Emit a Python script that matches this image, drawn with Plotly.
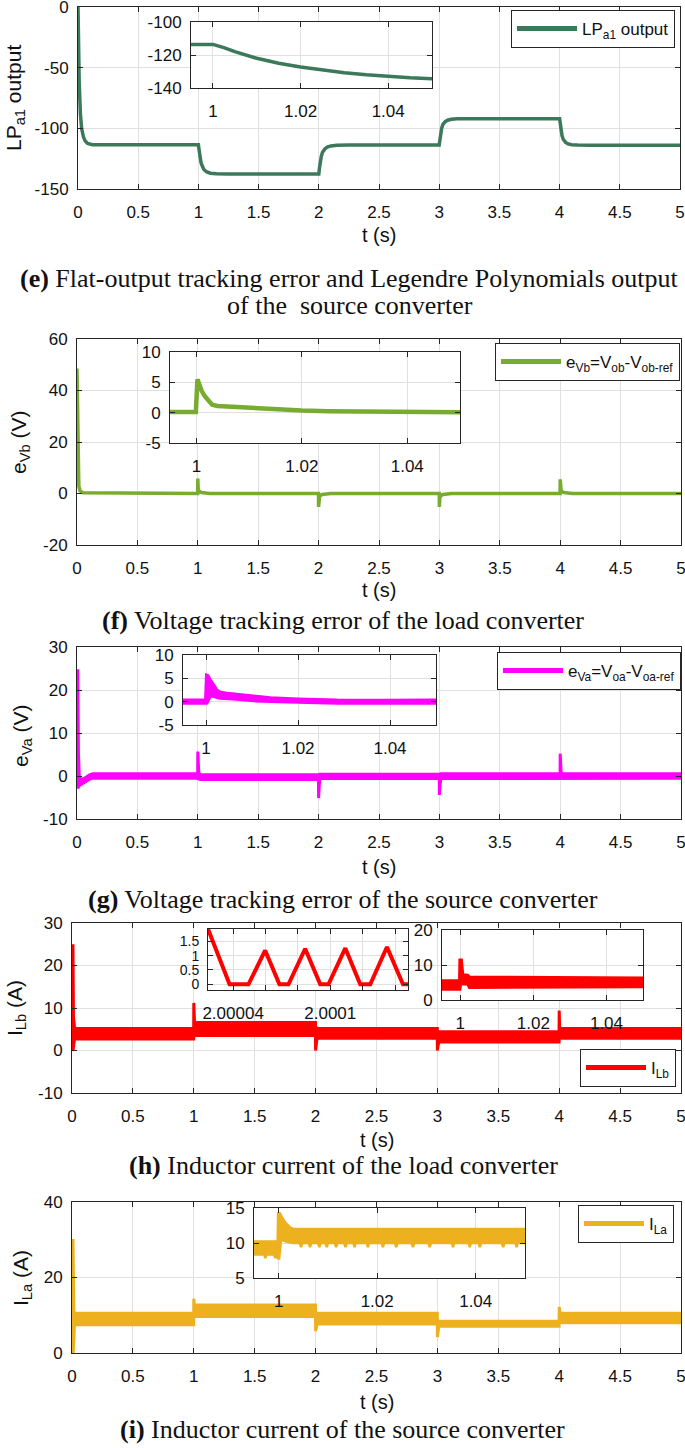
import plotly.graph_objects as go

W, H = 685, 1448

# ---------------- values ----------------
# (e) Legendre polynomials output LP_a1
t_lp = [0, 0.005, 0.01, 0.02, 0.03, 0.045, 0.06, 0.08, 0.12, 0.2, 0.995, 1.0,
        1.0025, 1.005, 1.01, 1.015, 1.02, 1.025, 1.03, 1.035, 1.04, 1.045, 1.05,
        1.07, 1.1, 1.15, 1.25, 2.0, 2.005, 2.01, 2.02, 2.03, 2.05, 2.07, 2.1, 2.15,
        2.25, 3.0, 3.005, 3.01, 3.02, 3.03, 3.05, 3.07, 3.1, 3.15, 3.25, 4.0, 4.005,
        4.01, 4.02, 4.03, 4.05, 4.07, 4.1, 4.15, 4.25, 5.0]
lp = [0, -38, -62, -88, -100, -107, -110.5, -112.5, -113.5, -113.6, -113.6, -113.6,
      -115.5, -118, -122, -125, -127.3, -129.3, -130.8, -132, -133, -133.8, -134.4,
      -136, -137, -137.5, -137.6, -137.6, -133, -129, -123.5, -120, -117, -115.5,
      -114.5, -114, -113.8, -113.8, -109, -105, -100, -97, -94.5, -93.3, -92.6,
      -92.2, -92, -92, -96.5, -100.5, -106, -109, -111.6, -112.8, -113.5, -113.8,
      -114, -114]

# (f) load converter voltage error e_Vb
t_evb = [0, 0.003, 0.006, 0.01, 0.015, 0.025, 0.05, 0.999, 1.0, 1.003, 1.008, 1.03,
         1.1, 1.999, 2.0, 2.003, 2.008, 2.03, 2.1, 2.999, 3.0, 3.003, 3.008, 3.03,
         3.1, 3.999, 4.0, 4.003, 4.008, 4.03, 4.1, 5.0]
evb = [48.5, 40, 20, 8, 3, 1, 0.3, 0, 5.8, 2, 1, 0.4, 0, 0, -5.2, -2, -1, -0.4, 0,
       0, -5.2, -2, -1, -0.4, 0, 0, 5.5, 2, 1, 0.4, 0, 0]
t_evb_zoom = [0.995, 0.9999, 1.0002, 1.0006, 1.001, 1.0016, 1.0024, 1.003, 1.004,
              1.006, 1.009, 1.012, 1.016, 1.02, 1.025, 1.03, 1.035, 1.04, 1.045, 1.05]
evb_zoom = [0.1, 0.1, 5.5, 4.5, 3.6, 2.7, 1.9, 1.3, 1.1, 1.0, 0.85, 0.7, 0.5, 0.35,
            0.25, 0.18, 0.12, 0.08, 0.05, 0.05]

# (g) source converter voltage error e_Va (noisy band: upper / lower edge)
t_eva_hi = [0, 0.003, 0.006, 0.012, 0.02, 0.06, 0.1, 0.13, 0.999, 1.0, 1.003, 1.008,
            1.02, 1.999, 2.0, 2.01, 2.999, 3.0, 3.01, 3.999, 4.0, 4.003, 4.008, 4.02, 5.0]
eva_hi = [0, 24.8, 24.8, 5, -0.8, -0.6, 0.2, 0.5, 0.5, 5.7, 2.0, 0.8, 0.3, 0.3, -0.2,
          0.4, 0.4, 0.1, 0.5, 0.5, 5.2, 1.8, 0.8, 0.5, 0.5]
t_eva_lo = [0, 0.005, 0.012, 0.02, 0.06, 0.1, 0.13, 0.999, 1.0, 1.02, 1.999, 2.0,
            2.002, 2.006, 2.012, 2.999, 3.0, 3.002, 3.006, 3.012, 3.999, 4.0, 5.0]
eva_lo = [0, -2.6, -2.6, -2.2, -1.5, -0.8, -0.5, -0.5, -0.6, -0.8, -0.8, -5.1, -5.1,
          -2.0, -0.6, -0.6, -4.4, -4.4, -2.0, -0.6, -0.6, -0.5, -0.5]
t_eva_zoom_hi = [0.995, 0.9999, 1.0001, 1.0004, 1.001, 1.0017, 1.0024, 1.003, 1.0045,
                 1.0067, 1.0104, 1.014, 1.02, 1.0285, 1.039, 1.05]
eva_zoom_hi = [0.35, 0.35, 5.7, 5.6, 4.6, 3.5, 2.5, 2.1, 1.8, 1.6, 1.27, 0.83, 0.56,
               0.34, 0.3, 0.34]
t_eva_zoom_lo = [0.995, 0.9999, 1.0002, 1.001, 1.0017, 1.0024, 1.003, 1.0045, 1.0067,
                 1.0104, 1.014, 1.02, 1.0285, 1.039, 1.05]
eva_zoom_lo = [-0.35, -0.35, -0.3, 1.3, 1.1, 0.9, 0.73, 0.6, 0.5, 0.17, 0.0, -0.13,
               -0.34, -0.4, -0.34]

# (h) load converter inductor current I_Lb
t_ilb_hi = [0, 0.004, 0.008, 0.012, 0.02, 0.03, 0.999, 1.0, 1.003, 1.006, 1.999, 2.0,
            2.01, 2.999, 3.0, 3.01, 3.999, 4.0, 4.003, 4.006, 5.0]
ilb_hi = [0, 25.0, 25.0, 8.0, 5.6, 5.2, 5.2, 11.2, 7.0, 6.6, 6.6, 5.6, 5.2, 5.2, 4.6,
          4.4, 4.4, 9.4, 6.0, 5.2, 5.2]
t_ilb_lo = [0, 0.01, 0.02, 0.03, 0.999, 1.0, 1.01, 1.999, 2.0, 2.002, 2.006, 2.012,
            2.999, 3.0, 3.002, 3.006, 3.012, 3.999, 4.0, 4.01, 5.0]
ilb_lo = [0, 0.3, 2.7, 2.7, 2.7, 3.5, 3.5, 3.5, 0.0, 0.0, 1.5, 2.9, 2.9, 0.0, 0.0,
          1.2, 2.0, 2.0, 2.9, 2.9, 2.9]
# switching ripple around t = 2 s
t_ilb_sw = [2.0000245, 2.0000378, 2.0000495, 2.0000598, 2.0000686, 2.0000742,
            2.0000845, 2.0000938, 2.0000989, 2.0001093, 2.0001185, 2.0001247,
            2.000135, 2.0001449, 2.000148]
ilb_sw = [1.93, 0, 0, 1.18, 0, 0, 1.24, 0, 0, 1.26, 0, 0, 1.3, 0, 0]
t_ilb_zoom_hi = [0.995, 0.9998, 0.9999, 1.0003, 1.0007, 1.002, 1.0025, 1.05]
ilb_zoom_hi = [5.5, 5.5, 11.4, 11.4, 7.2, 7.1, 6.6, 6.3]
t_ilb_zoom_lo = [0.995, 0.9999, 1.0001, 1.002, 1.0025, 1.05]
ilb_zoom_lo = [3.1, 3.1, 4.6, 4.6, 3.6, 3.8]

# (i) source converter inductor current I_La
t_ila_hi = [0, 0.004, 0.008, 0.015, 0.03, 0.999, 1.0, 1.004, 1.01, 1.999, 2.0, 2.01,
            2.999, 3.0, 3.01, 3.999, 4.0, 4.004, 4.012, 5.0]
ila_hi = [0, 30.2, 30.2, 10.8, 10.5, 10.5, 14.4, 13.0, 12.7, 12.7, 10.8, 10.5, 10.5,
          8.6, 8.4, 8.4, 12.2, 11.0, 10.5, 10.5]
t_ila_lo = [0, 0.01, 0.02, 0.03, 0.999, 1.0, 1.01, 1.999, 2.0, 2.003, 2.008, 2.015,
            2.999, 3.0, 3.003, 3.008, 3.015, 3.999, 4.0, 4.01, 5.0]
ila_lo = [0, 0.2, 7.5, 7.5, 7.5, 9.7, 9.7, 9.7, 5.8, 5.8, 7.0, 7.7, 7.7, 4.2, 4.2,
          6.2, 7.1, 7.1, 8.0, 8.0, 8.0]
t_ila_zoom_hi = [0.995, 0.9998, 0.9999, 1.0003, 1.0008, 1.0015, 1.0024, 1.003, 1.05]
ila_zoom_hi = [10.2, 10.2, 14.2, 14.2, 13.5, 12.8, 12.2, 12.0, 12.0]
t_ila_zoom_lo = [0.995, 0.9971, 0.9973, 0.9975, 0.9991, 0.9993, 0.9995, 0.9999,
                 1.0001, 1.0005, 1.0015, 1.003, 1.0043, 1.00455, 1.0048, 1.0061,
                 1.00638, 1.0066, 1.008, 1.00828, 1.0085, 1.0095, 1.00977, 1.01,
                 1.0114, 1.01167, 1.0119, 1.0133, 1.01357, 1.0138, 1.0152, 1.0154,
                 1.0156, 1.0179, 1.01811, 1.0183, 1.0209, 1.02116, 1.0214, 1.0236,
                 1.02388, 1.0241, 1.027, 1.02727, 1.0275, 1.0304, 1.03066, 1.0309,
                 1.0352, 1.0354, 1.0356, 1.0386, 1.0388, 1.039, 1.0406, 1.04083,
                 1.0411, 1.0453, 1.04558, 1.0458, 1.0481, 1.0483, 1.0485, 1.05]
ila_zoom_lo = [8.35, 8.35, 7.85, 8.35, 8.35, 7.85, 8.35, 7.8, 7.8, 10.5, 10.2, 10.0,
               10.0, 9.4, 10.0, 10.0, 9.4, 10.0, 10.0, 9.4, 10.0, 10.0, 9.4, 10.0,
               10.0, 9.4, 10.0, 10.0, 9.4, 10.0, 10.0, 9.4, 10.0, 10.0, 9.4, 10.0,
               10.0, 9.4, 10.0, 10.0, 9.4, 10.0, 10.0, 9.4, 10.0, 10.0, 9.4, 10.0,
               10.0, 9.4, 10.0, 10.0, 9.4, 10.0, 10.0, 9.4, 10.0, 10.0, 9.4, 10.0,
               10.0, 9.4, 10.0, 10.0]

# ---------------- tick labels ----------------
t_ticks = [0, 0.5, 1, 1.5, 2, 2.5, 3, 3.5, 4, 4.5, 5]
t_ticktext = ["0", "0.5", "1", "1.5", "2", "2.5", "3", "3.5", "4", "4.5", "5"]
zoom_ticks = [1, 1.02, 1.04]
zoom_ticktext = ["1", "1.02", "1.04"]
sw_ticks = [2.00004, 2.00006, 2.00008, 2.0001, 2.00012, 2.00014]
sw_ticktext = ["2.00004", " ", " ", "2.0001", " ", " "]
lp_ticks = [-150, -100, -50, 0]
lp_zoom_ticks = [-140, -120, -100]
evb_ticks = [-20, 0, 20, 40, 60]
ev_zoom_ticks = [-5, 0, 5, 10]
eva_ticks = [-10, 0, 10, 20, 30]
ilb_ticks = [-10, 0, 10, 20, 30]
sw_yticks = [0, 0.5, 1, 1.5]
ilb_zoom_ticks = [0, 10, 20]
ila_ticks = [0, 20, 40]
ila_zoom_ticks = [5, 10, 15]

C_LP = "#3c785a"
C_EVB = "#77AC30"
C_EVA = "#FF00FF"
C_ILB = "#FF0000"
C_ILA = "#EDB120"

SANS = "Liberation Sans, Arial, sans-serif"
SERIF = "Liberation Serif, Times New Roman, serif"


def lab(v):
    return ["%g" % a for a in v]


def xd(a, b):
    return [a / W, b / W]


def yd(top, bottom):
    return [1 - bottom / H, 1 - top / H]


fig = go.Figure()
layout = {}


def add_axes(n, xpx, ypx, xr, yr, xt, xtt, yt, ytt, yfont=17):
    sfx = "" if n == 1 else str(n)
    common = dict(showline=True, linecolor="#262626", linewidth=1, mirror="ticks",
                  ticks="inside", ticklen=5, tickcolor="#262626", showgrid=True,
                  gridcolor="#e0e0e0", gridwidth=1, zeroline=False, automargin=False,
                  tickmode="array", ticklabeloverflow="allow", tickangle=0)
    layout["xaxis" + sfx] = dict(common, domain=xd(*xpx), range=xr, tickvals=xt,
                                 ticktext=xtt, anchor="y" + sfx, ticklabelstandoff=8,
                                 tickfont=dict(family=SANS, size=17, color="#111111"))
    layout["yaxis" + sfx] = dict(common, domain=yd(*ypx), range=yr, tickvals=yt,
                                 ticktext=ytt, anchor="x" + sfx, ticklabelstandoff=5,
                                 tickfont=dict(family=SANS, size=yfont, color="#111111"))


def line(n, x, y, color, width):
    sfx = "" if n == 1 else str(n)
    fig.add_trace(go.Scatter(x=x, y=y, mode="lines", showlegend=False,
                             line=dict(color=color, width=width),
                             xaxis="x" + sfx, yaxis="y" + sfx, hoverinfo="skip"))


def band(n, t_hi, hi, t_lo, lo, color, width):
    sfx = "" if n == 1 else str(n)
    fig.add_trace(go.Scatter(x=list(t_hi) + list(t_lo)[::-1], y=list(hi) + list(lo)[::-1],
                             mode="lines", fill="toself", fillcolor=color,
                             line=dict(color=color, width=width), showlegend=False,
                             xaxis="x" + sfx, yaxis="y" + sfx, hoverinfo="skip"))


def legend_entry(n, name, color, leg):
    sfx = "" if n == 1 else str(n)
    fig.add_trace(go.Scatter(x=[None], y=[None], mode="lines", name=name,
                             line=dict(color=color, width=5), legend=leg,
                             xaxis="x" + sfx, yaxis="y" + sfx))


# (e)
add_axes(1, (78, 680), (7, 189), [0, 5], [-150, 0], t_ticks, t_ticktext, lp_ticks, lab(lp_ticks))
line(1, t_lp, lp, C_LP, 3.5)
legend_entry(1, "LP<sub>a1</sub> output", C_LP, "legend")
add_axes(2, (191, 432), (22, 88), [0.995, 1.05], [-140, -100], zoom_ticks, zoom_ticktext,
         lp_zoom_ticks, lab(lp_zoom_ticks))
line(2, t_lp, lp, C_LP, 3.5)

# (f)
add_axes(3, (77, 681), (339, 545), [0, 5], [-20, 60], t_ticks, t_ticktext, evb_ticks, lab(evb_ticks))
line(3, t_evb, evb, C_EVB, 3.5)
legend_entry(3, "e<sub>Vb</sub>=V<sub>ob</sub>-V<sub>ob-ref</sub>", C_EVB, "legend2")
add_axes(4, (170, 460), (352, 443), [0.995, 1.05], [-5, 10], zoom_ticks, zoom_ticktext,
         ev_zoom_ticks, lab(ev_zoom_ticks))
line(4, t_evb_zoom, evb_zoom, C_EVB, 4.5)

# (g)
add_axes(5, (77, 681), (647, 819), [0, 5], [-10, 30], t_ticks, t_ticktext, eva_ticks, lab(eva_ticks))
band(5, t_eva_hi, eva_hi, t_eva_lo, eva_lo, C_EVA, 3)
legend_entry(5, "e<sub>Va</sub>=V<sub>oa</sub>-V<sub>oa-ref</sub>", C_EVA, "legend3")
add_axes(6, (183, 436), (655, 725), [0.995, 1.05], [-5, 10], zoom_ticks, zoom_ticktext,
         ev_zoom_ticks, lab(ev_zoom_ticks))
band(6, t_eva_zoom_hi, eva_zoom_hi, t_eva_zoom_lo, eva_zoom_lo, C_EVA, 3)

# (h)
add_axes(7, (72, 681), (923, 1093), [0, 5], [-10, 30], t_ticks, t_ticktext, ilb_ticks, lab(ilb_ticks))
band(7, t_ilb_hi, ilb_hi, t_ilb_lo, ilb_lo, C_ILB, 3)
legend_entry(7, "I<sub>Lb</sub>", C_ILB, "legend4")
add_axes(8, (208, 408), (929, 990), [2.0000245, 2.000148], [-0.2, 1.93], sw_ticks, sw_ticktext,
         sw_yticks, lab(sw_yticks), yfont=14)
line(8, t_ilb_sw, ilb_sw, C_ILB, 4)
add_axes(9, (442, 643), (930, 1000), [0.995, 1.05], [0, 20], zoom_ticks, zoom_ticktext,
         ilb_zoom_ticks, lab(ilb_zoom_ticks))
band(9, t_ilb_zoom_hi, ilb_zoom_hi, t_ilb_zoom_lo, ilb_zoom_lo, C_ILB, 3)

# (i)
add_axes(10, (72, 681), (1202, 1353), [0, 5], [0, 40], t_ticks, t_ticktext, ila_ticks, lab(ila_ticks))
band(10, t_ila_hi, ila_hi, t_ila_lo, ila_lo, C_ILA, 3)
legend_entry(10, "I<sub>La</sub>", C_ILA, "legend5")
add_axes(11, (254, 525), (1208, 1278), [0.995, 1.05], [5, 15], zoom_ticks, zoom_ticktext,
         ila_zoom_ticks, lab(ila_zoom_ticks))
band(11, t_ila_zoom_hi, ila_zoom_hi, t_ila_zoom_lo, ila_zoom_lo, C_ILA, 2.5)


def legend_box(xr, ytop=None, ybot=None):
    d = dict(x=xr / W, xanchor="right", bgcolor="white", bordercolor="#262626",
             borderwidth=1, font=dict(family=SANS, size=17, color="#111111"),
             itemwidth=60, itemclick=False)
    if ytop is not None:
        d.update(y=1 - ytop / H, yanchor="top")
    else:
        d.update(y=1 - ybot / H, yanchor="bottom")
    return d


layout["legend"] = legend_box(675, ytop=10)
layout["legend2"] = legend_box(680, ytop=343)
layout["legend3"] = legend_box(681, ytop=652)
layout["legend4"] = legend_box(676, ybot=1087)
layout["legend5"] = legend_box(674, ytop=1205)

annotations = []


def note(text, x, y, size, family=SANS, angle=0):
    annotations.append(dict(text=text, x=x / W, y=1 - y / H, xref="paper", yref="paper",
                            showarrow=False, xanchor="center", yanchor="middle",
                            textangle=angle, font=dict(family=family, size=size, color="#111111")))


# y-axis titles
note("LP<sub>a1</sub> output", 15, 98, 21, angle=-90)
note("e<sub>Vb</sub> (V)", 20, 443, 21, angle=-90)
note("e<sub>Va</sub> (V)", 22, 736, 21, angle=-90)
note("I<sub>Lb</sub> (A)", 16, 1008, 21, angle=-90)
note("I<sub>La</sub> (A)", 22, 1278, 21, angle=-90)
# x-axis titles
for yy, xx in [(235, 379), (590, 379), (867, 379), (1140, 377), (1402, 377)]:
    note("t (s)", xx, yy, 20)
# captions
note("<b>(e)</b> Flat-output tracking error and Legendre Polynomials output", 349, 278, 26, SERIF)
note("of the  source converter", 350, 305, 26, SERIF)
note("<b>(f)</b> Voltage tracking error of the load converter", 343, 620, 26, SERIF)
note("<b>(g)</b> Voltage tracking error of the source converter", 343, 899, 26, SERIF)
note("<b>(h)</b> Inductor current of the load converter", 343, 1165, 26, SERIF)
note("<b>(i)</b> Inductor current of the source converter", 342, 1429, 26, SERIF)

layout["annotations"] = annotations
fig.update_layout(**layout)
fig.update_layout(width=W, height=H, margin=dict(l=0, r=0, t=0, b=0),
                  paper_bgcolor="white", plot_bgcolor="white")

fig.write_html("out.html", config={"displayModeBar": False},
               post_script="document.body.style.margin='0';")
